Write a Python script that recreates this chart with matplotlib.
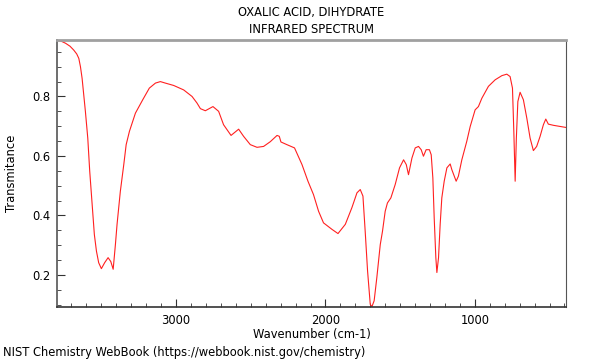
import numpy as np
import matplotlib
matplotlib.use("Agg")
import matplotlib.pyplot as plt
from matplotlib.ticker import MultipleLocator

# wavenumber (cm-1) and transmittance
wavenumber = [3792, 3770, 3740, 3710, 3685, 3665, 3651, 3640, 3629, 3607, 3591, 3578, 3562, 3547,
              3533, 3518, 3500, 3478, 3455, 3437, 3421, 3406, 3395, 3373,
              3350, 3334, 3312, 3272, 3223, 3179, 3138, 3105, 3072, 3016,
              2949, 2893, 2860, 2837, 2804, 2753, 2715, 2682, 2632, 2581,
              2548, 2503, 2458, 2414, 2369, 2324, 2309, 2298, 2258, 2207,
              2157, 2117, 2080, 2046, 2013, 1956, 1916, 1867, 1823, 1789,
              1767, 1749, 1734, 1718, 1700, 1689, 1674, 1656, 1633, 1618,
              1600, 1585, 1562, 1533, 1504, 1477, 1459, 1444, 1421, 1399,
              1377, 1359, 1344, 1326, 1304, 1292, 1281, 1272, 1261, 1254,
              1243, 1232, 1221, 1205, 1187, 1165, 1154, 1125, 1110, 1087,
              1054, 1031, 998, 976, 953, 909, 864, 819, 786, 764,
              748, 739, 730, 722, 712, 697, 675, 652, 630, 608,
              586, 563, 541, 525, 508, 474, 429, 392]
transmittance = [0.988, 0.986, 0.979, 0.969, 0.956, 0.943, 0.928, 0.900, 0.861, 0.750, 0.660, 0.549, 0.437, 0.336,
                 0.280, 0.241, 0.221, 0.241, 0.258, 0.245, 0.219, 0.302, 0.370, 0.481,
                 0.571, 0.638, 0.683, 0.744, 0.789, 0.828, 0.845, 0.850, 0.845, 0.837,
                 0.822, 0.800, 0.778, 0.759, 0.752, 0.766, 0.750, 0.705, 0.669, 0.690,
                 0.666, 0.638, 0.629, 0.632, 0.648, 0.669, 0.666, 0.647, 0.638, 0.627,
                 0.571, 0.515, 0.470, 0.414, 0.375, 0.353, 0.339, 0.370, 0.426, 0.476,
                 0.487, 0.465, 0.347, 0.213, 0.101, 0.093, 0.113, 0.191, 0.302, 0.347,
                 0.414, 0.442, 0.459, 0.504, 0.560, 0.587, 0.571, 0.537, 0.593, 0.627,
                 0.632, 0.621, 0.599, 0.621, 0.621, 0.604, 0.526, 0.392, 0.258, 0.208,
                 0.258, 0.370, 0.459, 0.515, 0.560, 0.573, 0.554, 0.515, 0.532, 0.587,
                 0.649, 0.699, 0.755, 0.766, 0.794, 0.834, 0.856, 0.870, 0.875, 0.867,
                 0.828, 0.683, 0.515, 0.660, 0.783, 0.814, 0.789, 0.727, 0.660, 0.618,
                 0.632, 0.666, 0.705, 0.724, 0.707, 0.703, 0.699, 0.696]

FS = 8.3

fig = plt.figure(figsize=(6, 3.6), dpi=100)
ax = fig.add_axes([0.0955, 0.148, 0.848, 0.741])

ax.plot(wavenumber, transmittance, color="#ff2020", lw=0.8)

ax.set_xlim(3795, 389)
ax.set_ylim(0.093, 0.99)

ax.xaxis.set_major_locator(MultipleLocator(1000))
ax.xaxis.set_minor_locator(MultipleLocator(100))
ax.yaxis.set_major_locator(MultipleLocator(0.2))
ax.yaxis.set_minor_locator(MultipleLocator(0.05))
ax.tick_params(which="both", direction="in", top=False, right=False,
               labelsize=FS, color="#333333")
ax.tick_params(which="major", length=6, pad=5)
ax.tick_params(which="minor", length=3)

ax.spines["top"].set_color("#a0a0a0")
ax.spines["top"].set_linewidth(2)
ax.spines["right"].set_color("#555555")
ax.spines["right"].set_linewidth(0.8)
ax.spines["left"].set_color("#555555")
ax.spines["left"].set_linewidth(1.2)
ax.spines["bottom"].set_color("#333333")
ax.spines["bottom"].set_linewidth(1.2)

ax.set_xlabel("Wavenumber (cm-1)", fontsize=FS, labelpad=1)
ax.set_ylabel("Transmitance", fontsize=FS, labelpad=10)

fig.text(0.519, 0.964, "OXALIC ACID, DIHYDRATE", ha="center", va="center", fontsize=FS)
fig.text(0.519, 0.917, "INFRARED SPECTRUM", ha="center", va="center", fontsize=FS)
fig.text(0.005, 0.022, "NIST Chemistry WebBook (https://webbook.nist.gov/chemistry)",
         ha="left", va="center", fontsize=FS)

fig.savefig("out.png", dpi=100)
